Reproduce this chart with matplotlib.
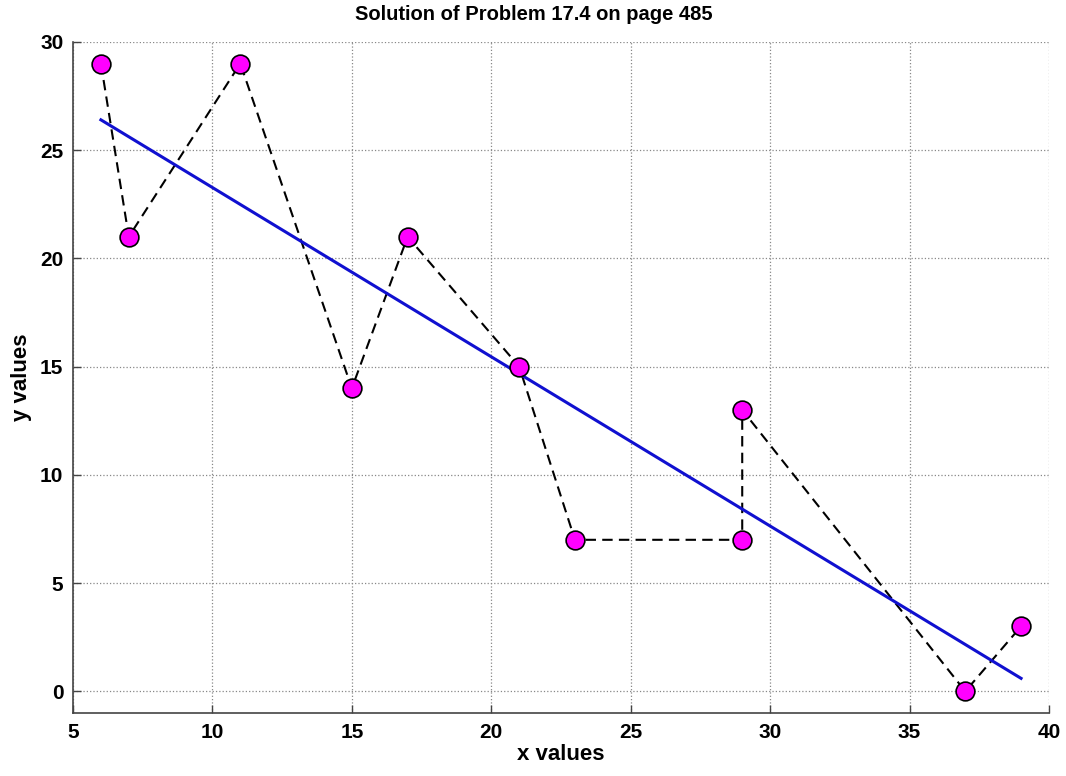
import matplotlib
matplotlib.use('Agg')
import matplotlib.pyplot as plt

# data points
x_vals = [6, 7, 11, 15, 17, 21, 23, 29, 29, 37, 39]
y_vals = [29, 21, 29, 14, 21, 15, 7, 7, 13, 0, 3]

# least-squares line end points
fit_x = [6, 39]
fit_y = [26.4, 0.6]

x_ticks = [5, 10, 15, 20, 25, 30, 35, 40]
y_ticks = [0, 5, 10, 15, 20, 25, 30]

plt.rcParams['font.family'] = ['Liberation Sans', 'DejaVu Sans']
plt.rcParams['font.weight'] = 'bold'

fig = plt.figure(figsize=(10.66, 7.76), dpi=100, facecolor='white')
ax = fig.add_axes([0.0685, 0.0812, 0.9155, 0.8648])

ax.plot(x_vals, y_vals, '--', color='black', linewidth=1.5, dashes=(5, 3), zorder=2)
ax.plot(fit_x, fit_y, '-', color='#1010d0', linewidth=2.2, zorder=3)
ax.plot(x_vals, y_vals, 'o', markersize=13.5, markerfacecolor='#ff00ff',
        markeredgecolor='black', markeredgewidth=1.2, linestyle='none', zorder=4)

ax.set_xlim(5, 40)
ax.set_ylim(-1, 30)
ax.set_xticks(x_ticks)
ax.set_yticks(y_ticks)
ax.grid(True, linestyle=':', color='#888888', linewidth=0.9)

ax.spines['top'].set_visible(False)
ax.spines['right'].set_visible(False)
for s in ('left', 'bottom'):
    ax.spines[s].set_color('#444444')
    ax.spines[s].set_linewidth(1.2)
ax.tick_params(direction='in', length=6, width=1, colors='#444444',
               labelcolor='black', labelsize=15, pad=7)

ax.set_title('Solution of Problem 17.4 on page 485', fontsize=14.5,
             fontweight='bold', pad=16, x=0.472)
ax.set_xlabel('x values', fontsize=16, fontweight='bold', labelpad=2)
ax.set_ylabel('y values', fontsize=16, fontweight='bold', labelpad=6)

fig.savefig('out.png', dpi=100)
